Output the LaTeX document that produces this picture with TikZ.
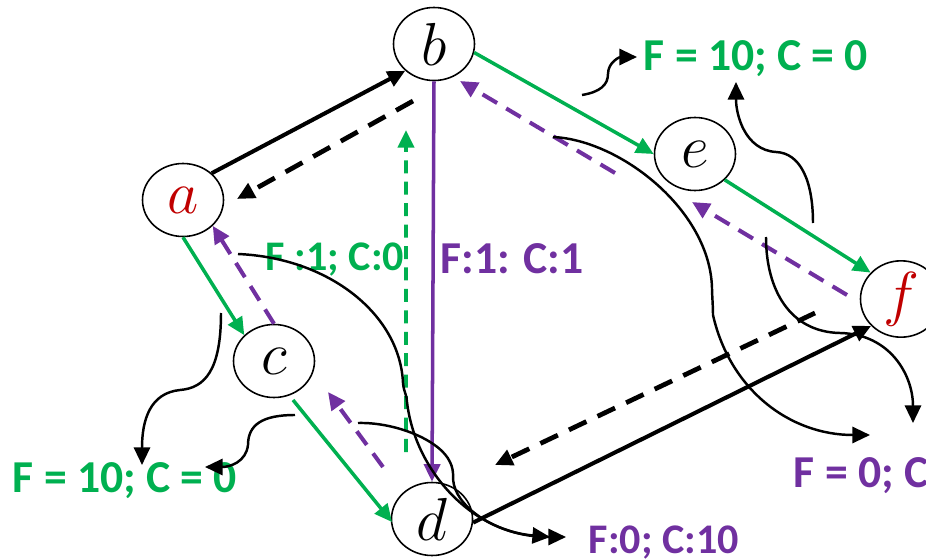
\documentclass[tikz,border=0pt]{standalone}
\usepackage{fontspec}
\newfontfamily\lblfont{Carlito}
\usetikzlibrary{shapes.geometric,arrows.meta,calc}
\definecolor{flowgreen}{HTML}{00B050}
\definecolor{flowpurple}{HTML}{7030A0}
\definecolor{srcred}{HTML}{C00000}

\begin{document}
\begin{tikzpicture}[
  >={Triangle[length=5pt,width=4.6pt]},
  vert/.style={ellipse,draw,line width=0.45pt,minimum width=0.81cm,minimum height=0.73cm,inner sep=0pt,font=\fontsize{16}{18}\selectfont},
  lbl/.style={anchor=base west,inner sep=0pt,font=\lblfont\fontsize{13}{15}\selectfont\bfseries},
  fwd/.style={->,line width=1.15pt},
  back/.style={->,line width=1.35pt,dash pattern=on 5.5pt off 3.5pt},
  grnline/.style={->,flowgreen,line width=1pt},
  grndash/.style={->,flowgreen,line width=1pt,dash pattern=on 3.7pt off 2.4pt},
  purline/.style={->,flowpurple,line width=1pt},
  purdash/.style={->,flowpurple,line width=1.15pt,dash pattern=on 4.8pt off 3pt},
  note/.style={->,line width=0.7pt}
]
\useasboundingbox (0,0) rectangle (9.26,-5.60);

% vertices
\node[vert,text=srcred] (a) at (1.83,-2.00) {$a$};
\node[vert] (b) at (4.34,-0.44) {$b$};
\node[vert] (c) at (2.74,-3.61) {$c$};
\node[vert] (d) at (4.32,-5.19) {$d$};
\node[vert] (e) at (6.95,-1.54) {$e$};
\node[vert,text=srcred] (f) at (9.01,-2.99) {$f$};

% flow / capacity labels
\node[lbl,flowgreen] (topgrn) at (6.43,-0.71) {F = 10; C = 0};
\node[lbl,flowgreen] (botgrn) at (0.12,-4.92) {F = 10; C = 0};
\node[lbl,flowgreen,font=\lblfont\fontsize{12}{14}\selectfont\bfseries] (fcgrn) at (2.65,-2.70) {F :1; C:0};
\node[lbl,flowpurple] (fcpur) at (4.40,-2.73) {F:1: C:1};
\node[lbl,flowpurple] (fpur) at (7.93,-4.87) {F = 0; C};
\node[lbl,flowpurple,font=\lblfont\fontsize{12}{14}\selectfont\bfseries] (fcten) at (5.88,-5.53) {F:0; C:10};

% black edges and their residuals
\draw[fwd] (a.43) -- (b.223);
\draw[back] ($(b)+(-0.21,-0.57)$) -- ($(a)+(0.54,0.01)$);
\draw[fwd] (d.-5) -- (f.222);
\draw[back] ($(f)+(-0.86,-0.14)$) -- ($(d)+(0.63,0.54)$);

% green edges
\draw[grnline] (a.south) -- (c.139);
\draw[grnline] ($(c)+(0.19,-0.39)$) -- ($(d)+(-0.40,-0.03)$);
\draw[grnline] (b.-12) -- (e.west);
\draw[grnline] (e.-41) -- (f.139);
\draw[grndash] ($(d)+(-0.26,0.67)$) -- ($(b)+(-0.28,-0.86)$);

% purple edges
\draw[purline] (b.south) -- (d.north);
\draw[purdash] (c.north) -- (a.-41);
\draw[purdash] ($(d)+(-0.49,0.52)$) -- ($(c)+(0.54,-0.31)$);
\draw[purdash] ($(e)+(-0.80,-0.19)$) -- ($(b)+(0.26,-0.37)$);
\draw[purdash] ($(f)+(-0.54,0.04)$) -- ($(e)+(-0.03,-0.48)$);

% pointers to the labels
\coordinate (p1) at (5.82,-0.95);
\coordinate (p2) at (8.13,-2.23);
\coordinate (p3) at (2.21,-3.13);
\coordinate (p4) at (2.95,-4.15);
\coordinate (p5) at (2.38,-2.54);
\coordinate (p6) at (3.58,-4.23);
\coordinate (p7) at (5.53,-1.37);
\coordinate (p8) at (7.66,-2.37);

\draw[note] (p1) .. controls (6.0,-0.92) and (6.08,-0.85) .. (6.08,-0.74)
  .. controls (6.08,-0.62) and (6.2,-0.57) .. ($(topgrn.base west)+(-0.06,0.14)$);
\draw[note] (p2) .. controls (8.13,-1.8) and (8.0,-1.53) .. (7.76,-1.52)
  .. controls (7.45,-1.5) and (7.36,-1.15) .. ($(topgrn.base west)+(0.93,-0.11)$);
\draw[note] (p3) .. controls (2.21,-3.7) and (2.05,-3.88) .. (1.80,-3.90)
  .. controls (1.5,-3.93) and (1.42,-4.2) .. ($(botgrn.base west)+(1.30,0.27)$);
\draw[note] (p4) .. controls (2.62,-4.15) and (2.48,-4.25) .. (2.48,-4.45)
  .. controls (2.46,-4.62) and (2.3,-4.67) .. ($(botgrn.base west)+(1.93,0.25)$);
\draw[note] (p5) .. controls (3.3,-2.58) and (4.0,-3.15) .. (4.03,-3.83)
  .. controls (4.04,-3.93) and (4.07,-3.95) .. (4.07,-4.02)
  .. controls (4.15,-4.7) and (4.7,-5.3) .. ($(fcten.base west)+(-0.38,0.16)$);
\draw[note] (p6) .. controls (3.95,-4.22) and (4.4,-4.4) .. (4.5,-4.62)
  .. controls (4.55,-4.72) and (4.52,-4.8) .. (4.54,-4.85)
  .. controls (4.6,-5.1) and (5.0,-5.37) .. ($(fcten.base west)+(-0.22,0.16)$);
\draw[note] (p7) .. controls (6.2,-1.4) and (7.1,-2.1) .. (7.12,-2.88)
  .. controls (7.12,-2.95) and (7.13,-3.05) .. (7.13,-3.15)
  .. controls (7.3,-3.9) and (7.9,-4.35) .. ($(fpur.base west)+(0.77,0.52)$);
\draw[note] (p8) .. controls (7.66,-2.9) and (7.9,-3.32) .. (8.4,-3.33)
  .. controls (8.9,-3.34) and (9.13,-3.75) .. ($(fpur.base west)+(1.20,0.64)$);
\end{tikzpicture}
\end{document}
